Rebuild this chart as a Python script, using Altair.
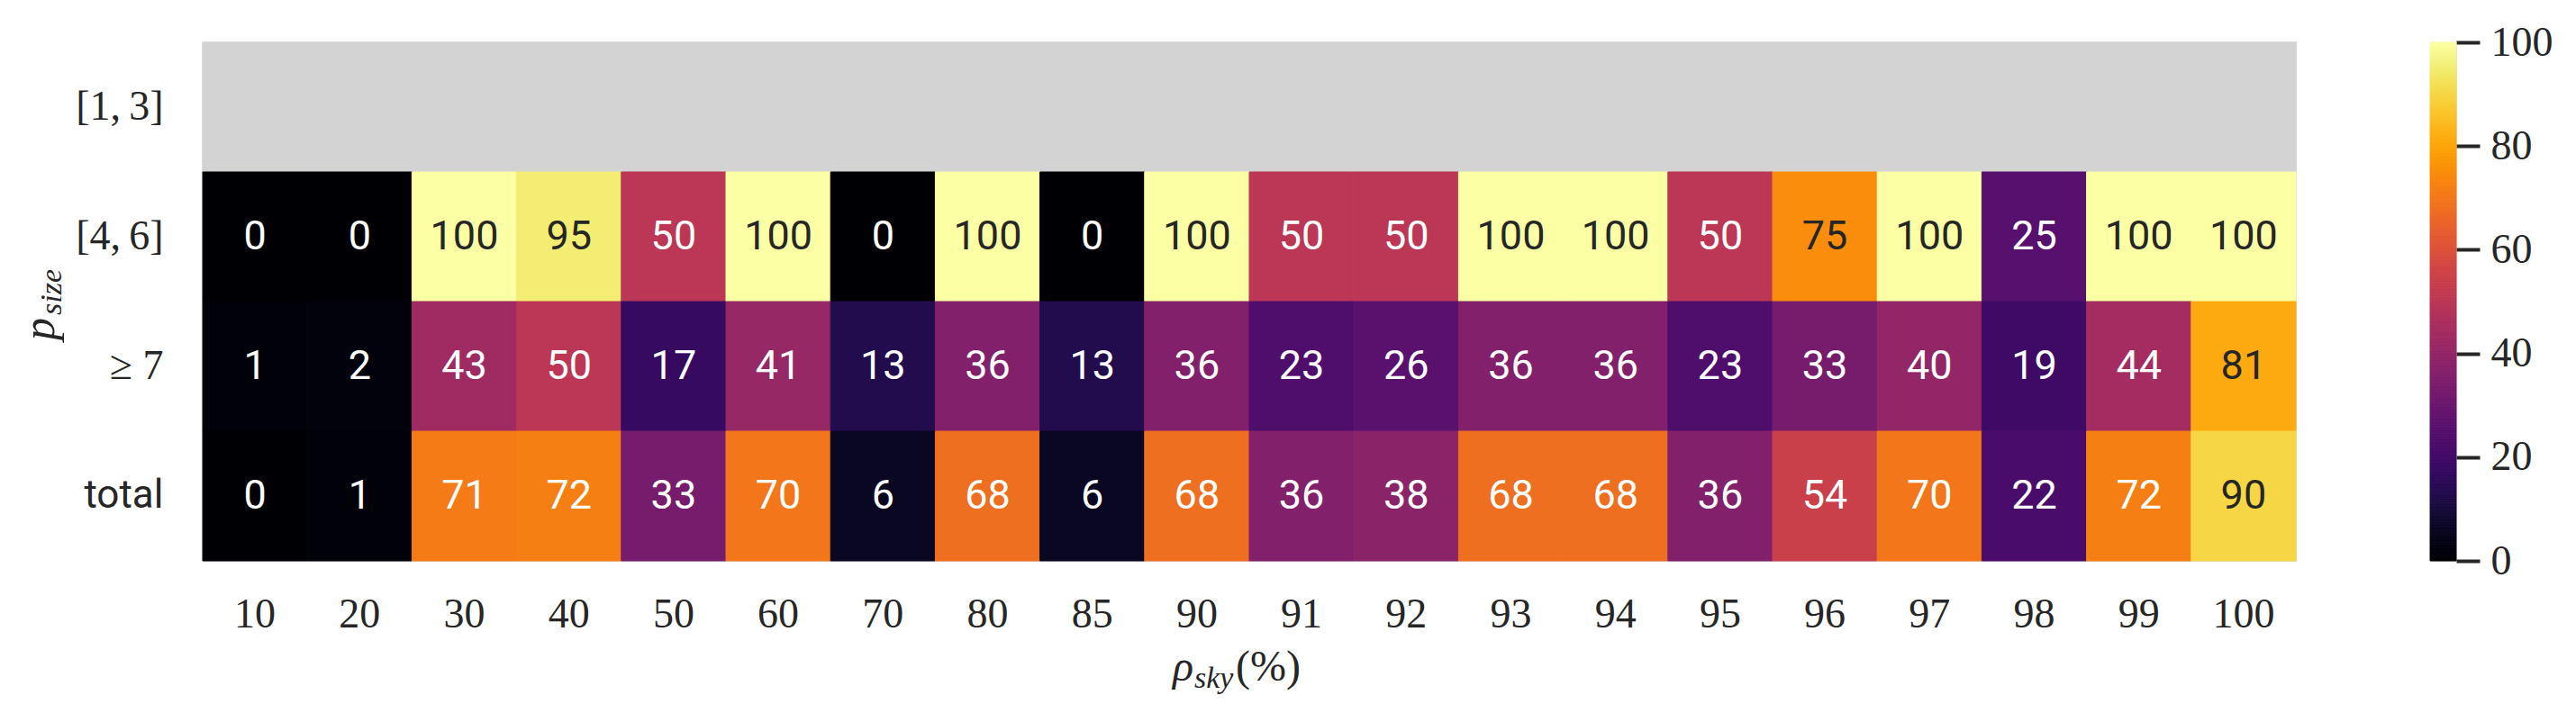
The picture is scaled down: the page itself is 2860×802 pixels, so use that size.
import altair as alt
import pandas as pd

cols = ["10", "20", "30", "40", "50", "60", "70", "80", "85", "90",
        "91", "92", "93", "94", "95", "96", "97", "98", "99", "100"]
rows = ["[1,\u20093]", "[4,\u20096]", "\u2265 7", "total"]

row_1_3 = [None] * 20
row_4_6 = [0, 0, 100, 95, 50, 100, 0, 100, 0, 100, 50, 50, 100, 100, 50, 75, 100, 25, 100, 100]
row_ge7 = [1, 2, 43, 50, 17, 41, 13, 36, 13, 36, 23, 26, 36, 36, 23, 33, 40, 19, 44, 81]
row_total = [0, 1, 71, 72, 33, 70, 6, 68, 6, 68, 36, 38, 68, 68, 36, 54, 70, 22, 72, 90]

colorbar_ticks = [0, 20, 40, 60, 80, 100]

records = []
for rname, vals in zip(rows, [row_1_3, row_4_6, row_ge7, row_total]):
    for c, v in zip(cols, vals):
        records.append({"row": rname, "col": c, "value": v})
df = pd.DataFrame(records)

SERIF = "Liberation Serif"
SANS = "Roboto"
DARK = "#262626"
W, H = 2324, 576

color_scale = alt.Scale(scheme="inferno", domain=[0, 100])

base = alt.Chart(df).encode(
    x=alt.X("col:N", sort=cols, title=None,
            axis=alt.Axis(labelFont=SERIF, labelFontSize=46, labelColor=DARK,
                          labelAngle=0, tickSize=0, domain=False, labelPadding=37)),
    y=alt.Y("row:N", sort=rows, title=None,
            axis=alt.Axis(labelFont={"condition": {"test": "datum.label == 'total'", "value": SANS},
                                     "value": SERIF},
                          labelFontSize={"condition": {"test": "datum.label == 'total'", "value": 44},
                                         "value": 46},
                          labelColor=DARK, tickSize=0, domain=False, labelPadding=44)),
)

gray = base.transform_filter("!isValid(datum.value)").mark_rect(
    color="#d3d3d3", stroke="#d3d3d3", strokeWidth=1.5)
cells = base.transform_filter("isValid(datum.value)").mark_rect().encode(
    color=alt.Color("value:Q", scale=color_scale, legend=None),
    stroke=alt.Color("value:Q", scale=color_scale, legend=None),
)
labels = base.transform_filter("isValid(datum.value)").mark_text(
    font=SANS, fontSize=45, baseline="middle", align="center"
).encode(
    text=alt.Text("value:Q", format=".0f"),
    color=alt.condition("datum.value >= 73", alt.value(DARK), alt.value("#ffffff")),
)

one = alt.Data(values=[{"a": 1}])
xt_main = alt.Chart(one).mark_text(text="\u03c1", font=SERIF, fontStyle="italic", fontSize=48,
                                   align="right", baseline="alphabetic", color=DARK).encode(
    x=alt.value(1100), y=alt.value(709))
xt_sub = alt.Chart(one).mark_text(text="sky", font=SERIF, fontStyle="italic", fontSize=34,
                                  align="left", baseline="alphabetic", color=DARK).encode(
    x=alt.value(1101), y=alt.value(717))
xt_pct = alt.Chart(one).mark_text(text="(%)", font=SERIF, fontSize=48,
                                  align="left", baseline="alphabetic", color=DARK).encode(
    x=alt.value(1147), y=alt.value(709))
yt_main = alt.Chart(one).mark_text(text="p", font=SERIF, fontStyle="italic", fontSize=50,
                                   align="left", baseline="alphabetic", angle=270, color=DARK).encode(
    x=alt.value(-165), y=alt.value(331))
yt_sub = alt.Chart(one).mark_text(text="size", font=SERIF, fontStyle="italic", fontSize=34,
                                  align="left", baseline="alphabetic", angle=270, color=DARK).encode(
    x=alt.value(-157), y=alt.value(303))

heat = alt.layer(gray, cells, labels, xt_main, xt_sub, xt_pct, yt_main, yt_sub).properties(
    width=W, height=H)

cb = alt.Chart(alt.sequence(0, 100, 0.25, as_="v")).transform_calculate(
    v2="datum.v + 0.25"
).mark_rect().encode(
    y=alt.Y("v:Q", scale=alt.Scale(domain=[0, 100], nice=False), title=None,
            axis=alt.Axis(orient="right", values=colorbar_ticks, format="d",
                          labelFont=SERIF, labelFontSize=46, labelColor=DARK,
                          tickSize=26, tickWidth=4, tickColor=DARK, labelPadding=12,
                          domain=False, grid=False)),
    y2="v2:Q",
    x=alt.value(0), x2=alt.value(29),
    color=alt.Color("v:Q", scale=color_scale, legend=None),
    stroke=alt.Color("v:Q", scale=color_scale, legend=None),
).properties(width=29, height=H)

chart = alt.hconcat(heat, cb, spacing=146).properties(
    padding={"left": 11, "top": 15, "right": 0, "bottom": 0}
).configure_view(stroke=None).configure(background="white")

chart.save("out.html", embed_options={"renderer": "svg", "actions": False})
